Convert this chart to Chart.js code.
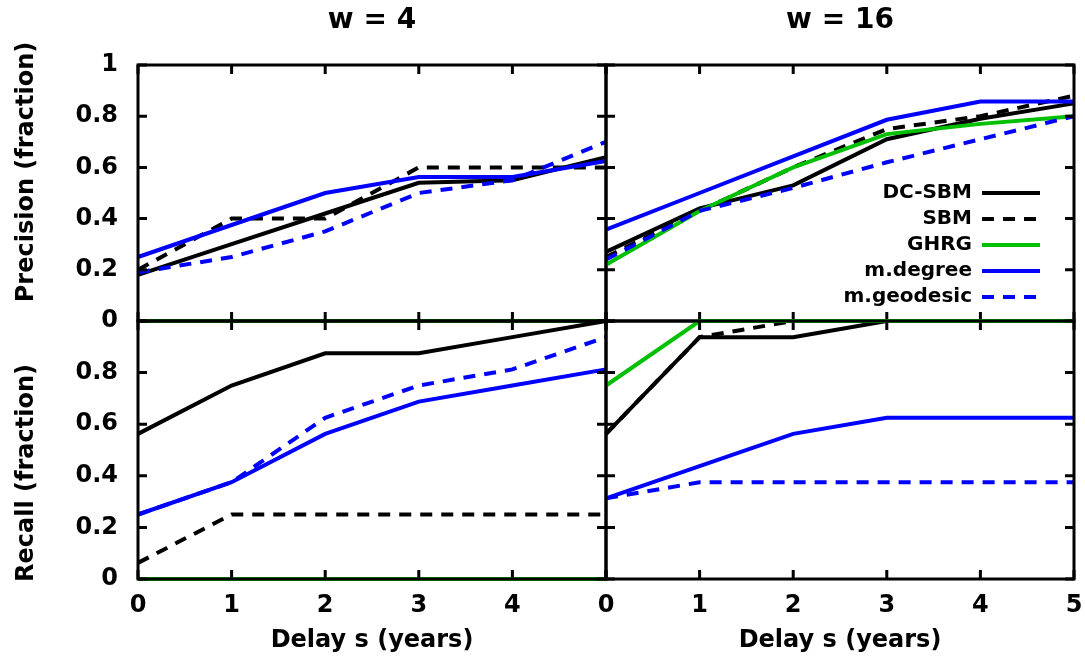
<!DOCTYPE html>
<html>
<head>
<meta charset="utf-8">
<title>Precision and recall vs delay</title>
<script src="https://cdn.jsdelivr.net/npm/chart.js@4.4.1/dist/chart.umd.min.js"></script>
<style>
  body { margin: 0; background: #fff; }
  #wrap { position: relative; width: 1085px; height: 659px; overflow: hidden; }
  #wrap canvas { position: absolute; }
</style>
</head>
<body>
<div id="wrap">
  <canvas id="precW4" style="left:0;top:0" width="620" height="340"></canvas>
  <canvas id="precW16" style="left:590px;top:0" width="495" height="340"></canvas>
  <canvas id="recW4" style="left:0;top:300px" width="620" height="359"></canvas>
  <canvas id="recW16" style="left:590px;top:300px" width="495" height="359"></canvas>
  <canvas id="legendBox" style="left:566px;top:177px" width="480" height="160"></canvas>
</div>
<script>
const delays = [0, 1, 2, 3, 4, 5];
const methods = ['DC-SBM', 'SBM', 'GHRG', 'm.degree', 'm.geodesic'];

// precision, w = 4
const precW4DcSbm    = [0.18, 0.30, 0.42, 0.54, 0.55, 0.64];
const precW4Sbm      = [0.20, 0.40, 0.40, 0.60, 0.60, 0.60];
const precW4Ghrg     = [0, 0, 0, 0, 0, 0];
const precW4Degree   = [0.25, 0.375, 0.50, 0.5625, 0.5625, 0.625];
const precW4Geodesic = [0.19, 0.25, 0.35, 0.50, 0.55, 0.70];

// precision, w = 16
const precW16DcSbm    = [0.27, 0.44, 0.53, 0.71, 0.79, 0.85];
const precW16Sbm      = [0.25, 0.43, 0.60, 0.75, 0.80, 0.88];
const precW16Ghrg     = [0.22, 0.43, 0.60, 0.73, 0.77, 0.80];
const precW16Degree   = [0.357, 0.50, 0.643, 0.786, 0.857, 0.857];
const precW16Geodesic = [0.24, 0.43, 0.52, 0.62, 0.71, 0.80];

// recall, w = 4
const recW4DcSbm    = [0.5625, 0.75, 0.875, 0.875, 0.9375, 1.0];
const recW4Sbm      = [0.0625, 0.25, 0.25, 0.25, 0.25, 0.25];
const recW4Ghrg     = [0, 0, 0, 0, 0, 0];
const recW4Degree   = [0.25, 0.375, 0.5625, 0.6875, 0.75, 0.8125];
const recW4Geodesic = [0.25, 0.375, 0.625, 0.75, 0.8125, 0.9375];

// recall, w = 16
const recW16DcSbm    = [0.5625, 0.9375, 0.9375, 1, 1, 1];
const recW16Sbm      = [0.5625, 0.9375, 1, 1, 1, 1];
const recW16Ghrg     = [0.75, 1, 1, 1, 1, 1];
const recW16Degree   = [0.3125, 0.4375, 0.5625, 0.625, 0.625, 0.625];
const recW16Geodesic = [0.3125, 0.375, 0.375, 0.375, 0.375, 0.375];

const lineColors = ['#000000', '#000000', '#00c000', '#0000ff', '#0000ff'];
const lineDashes = [[], [12, 9], [], [], [12, 9]];

const FONT = "'DejaVu Sans', sans-serif";
Chart.defaults.font.family = FONT;
Chart.defaults.font.weight = 'bold';
Chart.defaults.color = '#000';

// gnuplot style box with ticks pointing inwards
const framePlugin = {
  id: 'frame',
  afterDatasetsDraw(chart) {
    const { ctx, chartArea: a, scales: { x, y } } = chart;
    const len = 9;
    ctx.save();
    ctx.strokeStyle = '#000';
    ctx.lineWidth = 3;
    ctx.beginPath();
    x.ticks.forEach(t => {
      const px = x.getPixelForValue(t.value);
      ctx.moveTo(px, a.top); ctx.lineTo(px, a.top + len);
      ctx.moveTo(px, a.bottom); ctx.lineTo(px, a.bottom - len);
    });
    y.ticks.forEach(t => {
      const py = y.getPixelForValue(t.value);
      ctx.moveTo(a.left, py); ctx.lineTo(a.left + len, py);
      ctx.moveTo(a.right, py); ctx.lineTo(a.right - len, py);
    });
    ctx.stroke();
    ctx.strokeRect(a.left, a.top, a.right - a.left, a.bottom - a.top);
    ctx.restore();
  }
};

// rotated y label, placed like gnuplot does it (not centred on the panel)
const sideLabelPlugin = {
  id: 'sideLabel',
  afterDraw(chart, args, opts) {
    if (!opts.text) return;
    const ctx = chart.ctx;
    ctx.save();
    ctx.font = 'bold 24px ' + FONT;
    ctx.fillStyle = '#000';
    ctx.textAlign = 'center';
    ctx.textBaseline = 'middle';
    ctx.translate(opts.x, opts.y);
    ctx.rotate(-Math.PI / 2);
    ctx.fillText(opts.text, 0, 0);
    ctx.restore();
  }
};

function buildPanel(id, series, cfg) {
  const tickFont = { size: 24, weight: 'bold' };
  return new Chart(document.getElementById(id), {
    type: 'line',
    data: {
      datasets: series.map((vals, i) => ({
        label: methods[i],
        data: delays.map((d, j) => ({ x: d, y: vals[j] })),
        borderColor: lineColors[i],
        borderDash: lineDashes[i],
        borderWidth: 4,
        borderCapStyle: 'butt',
        pointRadius: 0,
        tension: 0,
        fill: false,
        clip: false,
        order: series.length - i
      }))
    },
    options: {
      responsive: false,
      animation: false,
      events: [],
      layout: { padding: cfg.padding },
      plugins: {
        legend: { display: false },
        tooltip: { enabled: false },
        title: {
          display: !!cfg.title,
          text: cfg.title,
          fullSize: false,
          color: '#000',
          font: { size: 28, weight: 'bold', lineHeight: '30px' },
          padding: { top: 6, bottom: 29 }
        },
        sideLabel: cfg.yTitle ? { text: cfg.yTitle, x: 27, y: cfg.yTitleY } : {}
      },
      scales: {
        x: {
          type: 'linear', min: 0, max: 5,
          ticks: {
            stepSize: 1, display: cfg.xLabels, padding: 0, font: tickFont,
            maxRotation: 0, autoSkip: false,
            callback: v => (cfg.dropLastX && v === 5) ? '' : String(v)
          },
          grid: { display: false, drawTicks: true, tickLength: 12 },
          border: { display: false },
          title: { display: cfg.xLabels, text: 'Delay s (years)', font: tickFont, padding: { top: 0, bottom: 4 } },
          afterFit: s => { s.height = cfg.xHeight; }
        },
        y: {
          type: 'linear', min: 0, max: 1,
          ticks: {
            stepSize: 0.2, display: !!cfg.yTitle, padding: 0, font: tickFont, autoSkip: false,
            callback: v => {
              const r = Math.round(v * 10) / 10;
              return (cfg.dropTopY && r === 1) ? '' : String(r);
            }
          },
          grid: { display: false, drawTicks: true, tickLength: 20 },
          border: { display: false },
          afterFit: s => { s.width = cfg.yWidth; }
        }
      }
    },
    plugins: [framePlugin, sideLabelPlugin]
  });
}

buildPanel('precW4', [precW4DcSbm, precW4Sbm, precW4Ghrg, precW4Degree, precW4Geodesic], {
  title: 'w = 4', yTitle: 'Precision (fraction)', yTitleY: 172,
  xLabels: false, xHeight: 0, yWidth: 138,
  padding: { left: 0, right: 14, top: 0, bottom: 19 }
});
buildPanel('precW16', [precW16DcSbm, precW16Sbm, precW16Ghrg, precW16Degree, precW16Geodesic], {
  title: 'w = 16', yTitle: null, xLabels: false, xHeight: 0, yWidth: 16,
  padding: { left: 0, right: 11, top: 0, bottom: 19 }
});
buildPanel('recW4', [recW4DcSbm, recW4Sbm, recW4Ghrg, recW4Degree, recW4Geodesic], {
  title: null, yTitle: 'Recall (fraction)', yTitleY: 173,
  xLabels: true, xHeight: 80, yWidth: 138,
  dropTopY: true, dropLastX: true,
  padding: { left: 0, right: 14, top: 21, bottom: 0 }
});
buildPanel('recW16', [recW16DcSbm, recW16Sbm, recW16Ghrg, recW16Degree, recW16Geodesic], {
  title: null, yTitle: null, xLabels: true, xHeight: 80, yWidth: 16,
  padding: { left: 0, right: 11, top: 21, bottom: 0 }
});

// legend drawn inside the top right panel
new Chart(document.getElementById('legendBox'), {
  type: 'line',
  data: {
    datasets: methods.map((m, i) => ({
      label: m, data: [], borderColor: lineColors[i], borderDash: lineDashes[i], borderWidth: 4
    }))
  },
  options: {
    responsive: false,
    animation: false,
    events: [],
    layout: { padding: 0 },
    scales: { x: { display: false }, y: { display: false } },
    plugins: {
      tooltip: { enabled: false },
      legend: {
        position: 'right',
        align: 'start',
        rtl: true,
        labels: {
          usePointStyle: true,
          pointStyleWidth: 58,
          padding: 6,
          color: '#000',
          font: { size: 20, weight: 'bold' },
          generateLabels: chart => chart.data.datasets.map((ds, i) => ({
            text: ds.label,
            strokeStyle: ds.borderColor,
            fillStyle: ds.borderColor,
            lineWidth: 4,
            lineDash: ds.borderDash,
            lineCap: 'butt',
            pointStyle: 'line',
            fontColor: '#000',
            hidden: false,
            datasetIndex: i
          }))
        }
      }
    }
  }
});
</script>
</body>
</html>
